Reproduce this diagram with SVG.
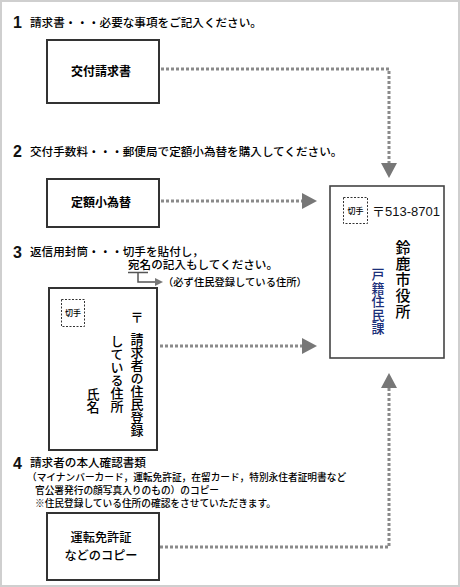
<svg xmlns="http://www.w3.org/2000/svg" width="460" height="587" viewBox="0 0 460 587">
<defs>
<style>
.jp{font-family:"Noto Sans CJK JP","Noto Sans",sans-serif;fill:#000;font-weight:500}
.h{font-size:11.6px}
.s{font-size:9.7px}
.num{font-family:"Liberation Sans",Arial,sans-serif;font-weight:bold;font-size:16px;fill:#111}
.box{fill:#fff;stroke:#333;stroke-width:2}
.bl{font-size:12px;font-weight:bold;text-anchor:middle}
.stamp{fill:none;stroke:#333;stroke-width:1;stroke-dasharray:2 1.5}
.st{font-size:8px;text-anchor:middle}
.v{writing-mode:vertical-rl}
.dot{fill:none;stroke:#8a8a8a;stroke-width:3;stroke-dasharray:3 2}
.ah{fill:#777}
</style>
</defs>
<rect x="1" y="1" width="458" height="585" fill="#fff" stroke="#cfcfcf" stroke-width="2"/>

<g id="step1">
<text class="num" x="13" y="28">1</text>
<text class="jp h" x="30" y="27">請求書・・・必要な事項をご記入ください。</text>
</g>
<g id="node-kofu">
<rect class="box" x="47" y="40" width="112" height="63"/>
<text class="jp bl" x="101" y="76">交付請求書</text>
</g>

<g id="step2">
<text class="num" x="13" y="157">2</text>
<text class="jp h" x="30" y="156">交付手数料・・・郵便局で定額小為替を購入してください。</text>
</g>
<g id="node-teigaku">
<rect class="box" x="47" y="179" width="112" height="48"/>
<text class="jp bl" x="101" y="207">定額小為替</text>
</g>

<g id="step3">
<text class="num" x="13" y="258">3</text>
<text class="jp h" x="30" y="256">返信用封筒・・・切手を貼付し，</text>
<text class="jp h" x="128" y="269">宛名の記入もしてください。</text>
<path d="M128,272.5 H148 M138,272.5 V282 H156" fill="none" stroke="#555" stroke-width="1.5"/>
<polygon class="ah" points="155,278 163,282 155,286"/>
<text class="jp" x="163" y="286" font-size="10.3">（必ず住民登録している住所）</text>
</g>
<g id="node-henshin">
<rect class="box" x="49" y="288" width="108" height="162"/>
<rect class="stamp" x="61.5" y="299.5" width="23" height="27"/>
<text class="jp st" x="73" y="316">切手</text>
<text class="jp v" x="137" y="311" font-size="13">〒</text>
<text class="jp v" x="137" y="333" font-size="13">請求者の住民登録</text>
<text class="jp v" x="117" y="335" font-size="13">している住所</text>
<text class="jp v" x="93" y="388" font-size="13">氏名</text>
</g>

<g id="step4">
<text class="num" x="13" y="469">4</text>
<text class="jp h" x="30" y="467">請求者の本人確認書類</text>
<text class="jp s" x="27" y="481">（マイナンバーカード，運転免許証，在留カード，特別永住者証明書など</text>
<text class="jp s" x="35" y="494">官公署発行の顔写真入りのもの）のコピー</text>
<text class="jp s" x="35" y="507">※住民登録している住所の確認をさせていただきます。</text>
</g>
<g id="node-copy">
<rect class="box" x="47" y="513" width="112" height="67"/>
<text class="jp" x="101" y="542" font-size="12.2" text-anchor="middle">運転免許証</text>
<text class="jp" x="101" y="560" font-size="12.2" text-anchor="middle">などのコピー</text>
</g>

<g id="node-shiyakusho">
<rect x="330" y="186" width="114" height="172" fill="#fff" stroke="#444" stroke-width="1.6"/>
<rect class="stamp" x="343.5" y="197.5" width="24" height="26"/>
<text class="jp st" x="355.5" y="214">切手</text>
<text x="372" y="216" font-family="Liberation Sans,Arial,'Noto Sans CJK JP',sans-serif" font-size="13" fill="#111">〒513-8701</text>
<text class="jp v" x="403" y="240" font-size="15" letter-spacing="1">鈴鹿市役所</text>
<text class="jp v" x="378" y="268" font-size="13" letter-spacing="0.4" style="fill:#1b2f7a">戸籍住民課</text>
</g>

<g id="connectors">
<path class="dot" d="M161,69 H389 V163"/>
<polygon class="ah" points="381,163 397,163 389,178"/>
<path class="dot" d="M161,201 H302"/>
<polygon class="ah" points="302,193 302,209 317,201"/>
<path class="dot" d="M160,346 H302"/>
<polygon class="ah" points="302,338 302,354 317,346"/>
<path class="dot" d="M160,547 H389 V388"/>
<polygon class="ah" points="381,388 397,388 389,373"/>
</g>
</svg>
